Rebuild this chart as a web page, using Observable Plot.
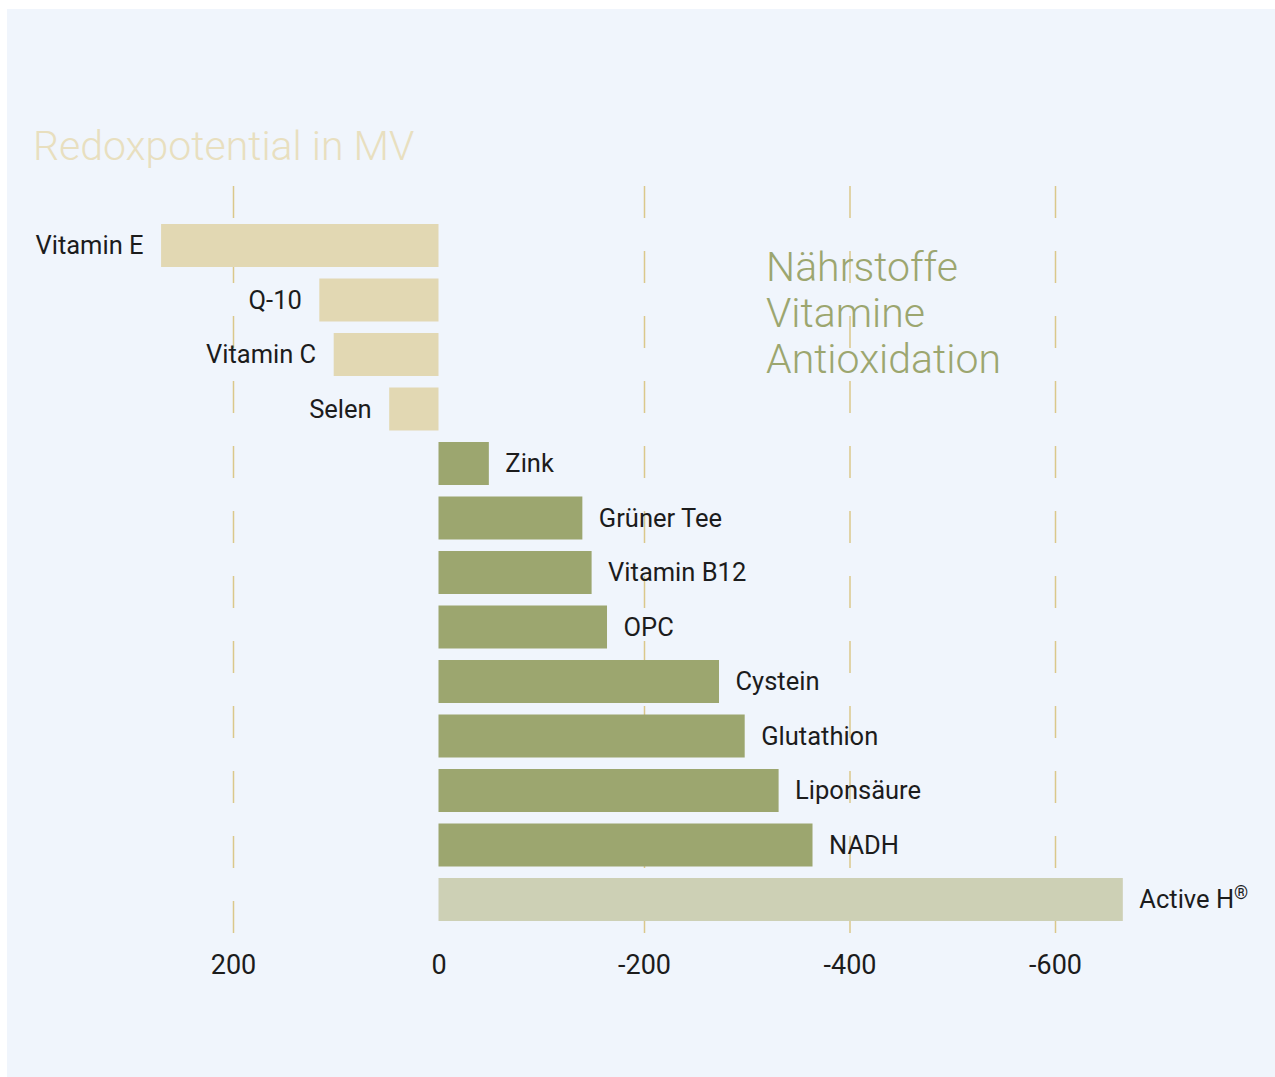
<!DOCTYPE html>
<html>
<head>
<meta charset="utf-8">
<script src="https://cdn.jsdelivr.net/npm/d3@7"></script>
<script src="https://cdn.jsdelivr.net/npm/@observablehq/plot@0.6"></script>
<style>
  html, body { margin: 0; padding: 0; background: #ffffff; }
  #wrap { position: absolute; left: 7px; top: 9px; width: 1268px; height: 1068px; background: #f0f5fc; }
  svg { display: block; }
</style>
</head>
<body>
<div id="wrap"></div>
<script>
const categories = ["Vitamin E", "Q-10", "Vitamin C", "Selen", "Zink", "Grüner Tee", "Vitamin B12", "OPC", "Cystein", "Glutathion", "Liponsäure", "NADH", "Active H®"];
const values = [270, 116, 102, 48, -49, -140, -149, -164, -273, -298, -331, -364, -666];
const groups = ["pos", "pos", "pos", "pos", "neg", "neg", "neg", "neg", "neg", "neg", "neg", "neg", "active"];
const tickValues = [200, 0, -200, -400, -600];
const gridValues = [200, -200, -400, -600];
const titleText = "Redoxpotential in MV";
const noteLines = ["Nährstoffe", "Vitamine", "Antioxidation"];

const data = categories.map((c, i) => ({name: c, value: values[i], group: groups[i]}));

const FONT = "Roboto, 'Open Sans', sans-serif";
const W = 1268, H = 1068;

const chart = Plot.plot({
  width: W,
  height: H,
  marginTop: 177,
  marginBottom: 144,
  marginLeft: 0,
  marginRight: 0,
  style: {background: "transparent", fontFamily: FONT, overflow: "visible"},
  x: {domain: [200, -600], range: [226, 1048], label: null},
  y: {domain: categories, range: [203.5, 923.5], padding: 0.211, round: false, axis: null},
  color: {domain: ["pos", "neg", "active"], range: ["#e2d8b3", "#9ca66f", "#cdd0b5"]},
  marks: [
    Plot.gridX(gridValues, {stroke: "#dac88a", strokeOpacity: 1, strokeWidth: 1.5, strokeDasharray: "32,33"}),
    Plot.barX(data, {x1: 0, x2: "value", y: "name", fill: "group"}),
    Plot.text(data.filter(d => d.value > 0), {x: "value", y: "name", text: "name", textAnchor: "end", dx: -18, fontSize: 25.5, fill: "#1c1c1c"}),
    Plot.text(data.filter(d => d.value < 0), {x: "value", y: "name", text: "name", textAnchor: "start", dx: 16, fontSize: 25.5, fill: "#1c1c1c"}),
    Plot.axisX({ticks: tickValues, tickSize: 0, tickPadding: 21, fontSize: 27, color: "#1c1c1c", label: null, tickFormat: d => String(d).replace("−", "-")}),
  ]
});

document.getElementById("wrap").appendChild(chart);

const svg = d3.select(chart);
// superscript registered mark
svg.selectAll("text").each(function() {
  const t = d3.select(this);
  if (t.text() === "Active H®") {
    t.text(null);
    t.append("tspan").text("Active H");
    t.append("tspan").attr("font-size", 18).attr("dy", "-0.5em").text("®");
  }
});

svg.append("text")
  .attr("x", 26).attr("y", 151)
  .attr("text-anchor", "start")
  .attr("font-family", FONT).attr("font-weight", 300).attr("font-size", 41)
  .attr("fill", "#e8dfbf")
  .text(titleText);

const note = svg.append("text")
  .attr("text-anchor", "start")
  .attr("font-family", FONT).attr("font-weight", 300).attr("font-size", 41)
  .attr("fill", "#9ca66f");
noteLines.forEach((l, i) => {
  note.append("tspan").attr("x", 759).attr("y", 272 + i * 46).text(l);
});
</script>
</body>
</html>
